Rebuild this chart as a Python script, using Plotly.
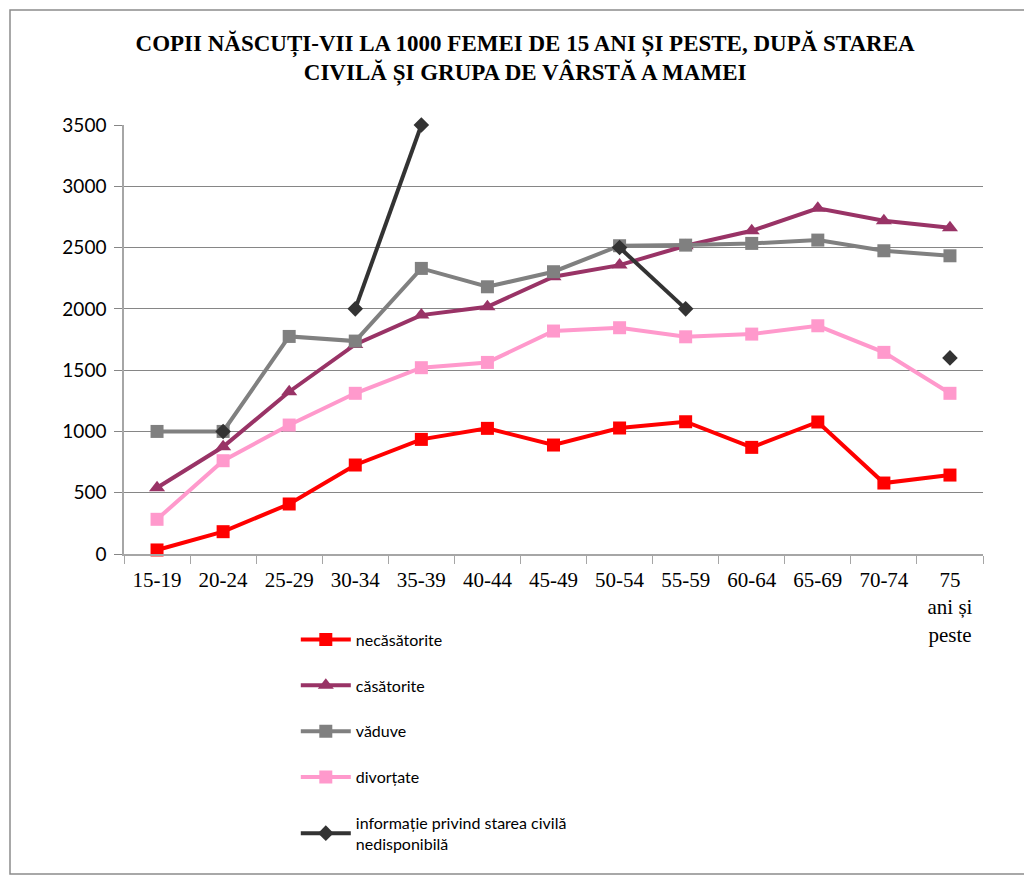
import plotly.graph_objects as go

age_groups = ["15-19", "20-24", "25-29", "30-34", "35-39", "40-44", "45-49",
              "50-54", "55-59", "60-64", "65-69", "70-74", "75<br>ani și<br>peste"]

necasatorite = [33, 182, 408, 726, 935, 1025, 889, 1028, 1079, 870, 1077, 579, 644]
casatorite = [541, 875, 1324, 1710, 1949, 2017, 2262, 2357, 2515, 2637, 2820, 2719, 2662]
vaduve = [1000, 1000, 1775, 1737, 2330, 2180, 2303, 2515, 2520, 2534, 2561, 2474, 2433]
divortate = [283, 761, 1052, 1311, 1520, 1563, 1819, 1846, 1772, 1794, 1862, 1645, 1311]
nedisponibila = [None, 1000, None, 2000, 3500, None, None, 2500, 2000, None, None, None, 1600]

series = [
    ("necăsătorite", necasatorite, "#FF0000", "square", 13),
    ("căsătorite", casatorite, "#993366", "triangle-up", 14),
    ("văduve", vaduve, "#808080", "square", 13),
    ("divorțate", divortate, "#FF99CC", "square", 13),
    ("informație privind starea civilă<br>nedisponibilă", nedisponibila, "#333333", "diamond", 12),
]

fig = go.Figure()
for i, (name, vals, color, symbol, size) in enumerate(series):
    fig.add_trace(go.Scatter(
        x=age_groups, y=vals, name=name, mode="lines+markers",
        line=dict(color=color, width=4), connectgaps=False, cliponaxis=False,
        marker=dict(symbol=symbol, size=size, color=color),
        legendgroup=str(i),
    ))

# page body has an 8px default margin, so the figure is drawn 8px smaller
W, H = 1024, 869
L, R, T, B = 116, 49, 117, 323
pw, ph = W - L - R, H - T - B

fig.update_layout(
    width=W, height=H,
    margin=dict(l=L, r=R, t=T, b=B),
    paper_bgcolor="white", plot_bgcolor="white",
    title=dict(text="COPII NĂSCUȚI-VII LA 1000 FEMEI DE 15 ANI ȘI PESTE, DUPĂ STAREA<br>CIVILĂ ȘI GRUPA DE VÂRSTĂ A MAMEI",
               x=0.505, xanchor="center", y=0.951, yanchor="top",
               font=dict(family="Liberation Serif", size=23, color="black", weight="bold")),
    legend=dict(x=0.2, y=-0.16, xanchor="left", yanchor="top",
                font=dict(family="Lato", size=16, color="black"),
                tracegroupgap=22, itemwidth=50),
    showlegend=True,
    shapes=[dict(type="rect", xref="paper", yref="paper",
                 x0=(2 - L) / pw, x1=(W - 1 - L) / pw,
                 y0=(T + ph - 866) / ph, y1=(T + ph - 2) / ph,
                 line=dict(color="#8c8c8c", width=1.5))],
)
fig.update_xaxes(
    type="category", range=[-0.5, len(age_groups) - 0.5],
    tickson="boundaries", ticks="outside", ticklen=8,
    tickcolor="#a6a6a6", showline=True, linecolor="#a6a6a6", linewidth=1.5,
    showgrid=False, tickangle=0, ticklabelstandoff=6,
    tickfont=dict(family="Liberation Serif", size=21, color="black"),
)
fig.update_yaxes(
    range=[0, 3500], dtick=500, ticks="outside", ticklen=8, tickcolor="#868686",
    showline=True, linecolor="#a6a6a6", linewidth=1.5,
    showgrid=True, gridcolor="#868686", gridwidth=1, zeroline=False,
    ticklabelstandoff=4,
    tickfont=dict(family="Lato", size=19, color="black"),
)

fig.write_html("out.html")
